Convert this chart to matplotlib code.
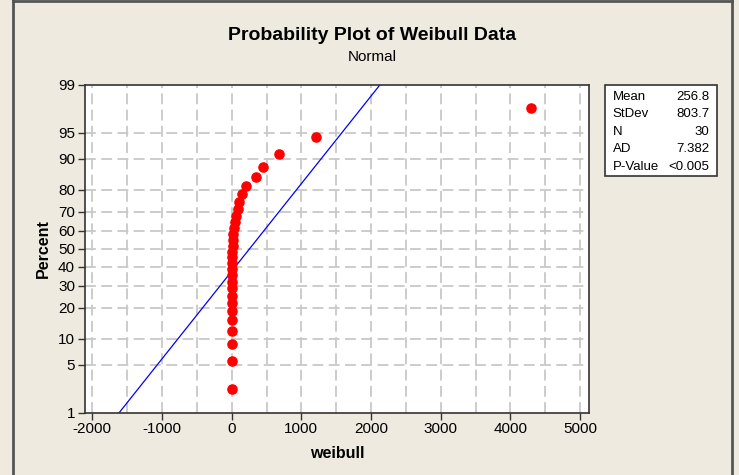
import matplotlib
matplotlib.use("Agg")
import matplotlib.pyplot as plt
from matplotlib import font_manager
from matplotlib.lines import Line2D
from matplotlib.patches import Rectangle
from statistics import NormalDist
import numpy as np

# ---- data ----
weibull = [0.2, 0.5, 0.9, 1.4, 1.9, 2.5, 3.1, 3.8, 4.6, 5.4, 6.3, 7.3, 8.4, 9.6,
           11, 12.5, 14, 20, 29, 50, 65, 89, 108, 143, 205, 349, 454, 675, 1211, 4300]
fit_mean = 256.8
fit_sd = 803.7
stat_names = ["Mean", "StDev", "N", "AD", "P-Value"]
stat_values = ["256.8", "803.7", "30", "7.382", "<0.005"]
pct_ticks = [1, 5, 10, 20, 30, 40, 50, 60, 70, 80, 90, 95, 99]
x_ticks = [-2000, -1000, 0, 1000, 2000, 3000, 4000, 5000]
x_grid = list(range(-2000, 5001, 500))

avail = {f.name for f in font_manager.fontManager.ttflist}
fam = next((f for f in ["Liberation Sans", "Arial", "DejaVu Sans"] if f in avail), "DejaVu Sans")
plt.rcParams['font.family'] = [fam, 'DejaVu Sans']

BG = '#EEEAE0'
nd = NormalDist()
z = lambda p: nd.inv_cdf(p / 100.0)

W, H = 739, 475
fig = plt.figure(figsize=(W / 100, H / 100), dpi=100, facecolor=BG)

ax_l, ax_r, ax_t, ax_b = 84.7, 589, 85, 412.5
ax = fig.add_axes([ax_l / W, 1 - ax_b / H, (ax_r - ax_l) / W, (ax_b - ax_t) / H])
ax.set_facecolor('white')

# frame
for xs_, ys_ in [([13, 13], [0, H]), ([732, 732], [0, H]), ([13, 732], [1, 1])]:
    fig.add_artist(Line2D([x / W for x in xs_], [1 - y / H for y in ys_],
                          color='#555555', lw=2.0, transform=fig.transFigure))

n = len(weibull)
xs = np.sort(np.array(weibull))
pos = [(i - 0.3) / (n + 0.4) * 100 for i in range(1, n + 1)]
ys = [z(p) for p in pos]

zlo, zhi = z(1), z(99)
ax.set_ylim(zlo, zhi)
ax.set_xlim(-2110, 5129)

for g in x_grid:
    ax.axvline(g, color='#C8C8C8', lw=1.3, ls=(0, (6, 3)), zorder=0)
for p in pct_ticks[1:-1]:
    ax.axhline(z(p), color='#C8C8C8', lw=1.3, ls=(0, (6, 3)), zorder=0)

# fitted line
ax.plot([fit_mean + fit_sd * zlo, fit_mean + fit_sd * zhi], [zlo, zhi],
        color='#0000FF', lw=0.9, zorder=2)
ax.plot(xs, ys, 'o', color='#FF0000', ms=6.6, mec='#FF0000', zorder=3, clip_on=False)

ax.set_yticks([z(p) for p in pct_ticks])
ax.set_yticklabels([str(p) for p in pct_ticks])
ax.set_xticks(x_ticks)
ax.set_xticklabels([str(t) for t in x_ticks])
ax.tick_params(axis='both', direction='out', length=5, width=1, color='#333333',
               labelsize=11, labelcolor='black', pad=2)
for s in ax.spines.values():
    s.set_color('#333333')
    s.set_linewidth(1.2)

ax.set_xlabel('weibull', fontsize=11.5, fontweight='bold', labelpad=7)
ax.set_ylabel('Percent', fontsize=11.5, fontweight='bold', labelpad=5)

fig.text(372.5 / W, 1 - 36 / H, 'Probability Plot of Weibull Data', ha='center', va='center',
         fontsize=14, fontweight='bold')
fig.text(372.5 / W, 1 - 57 / H, 'Normal', ha='center', va='center', fontsize=11)

# stats box
fig.add_artist(Rectangle((605.3 / W, 1 - 176 / H), (716.7 - 605.3) / W, (176 - 85) / H,
                         transform=fig.transFigure, facecolor='white', edgecolor='#333333', lw=1.2))
row_y = [96.7, 114.2, 131.7, 149.2, 166.8]
for nm, val, yy in zip(stat_names, stat_values, row_y):
    fig.text(612.7 / W, 1 - yy / H, nm, ha='left', va='center', fontsize=9.5)
    fig.text(709.5 / W, 1 - yy / H, val, ha='right', va='center', fontsize=9.5)

fig.savefig('out.png', dpi=100, facecolor=BG)
